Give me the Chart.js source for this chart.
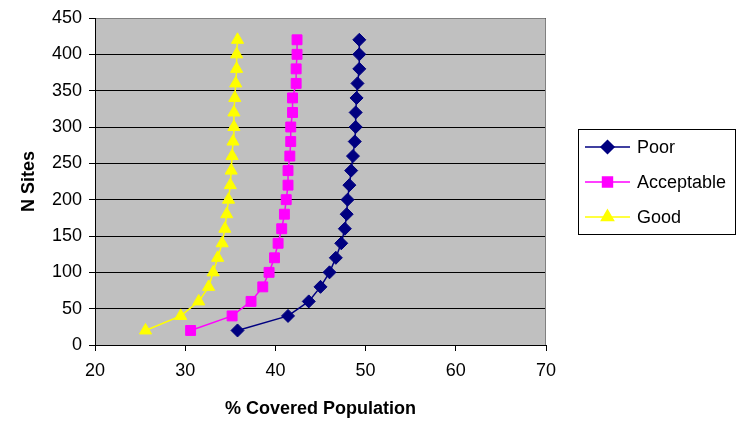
<!DOCTYPE html>
<html>
<head>
<meta charset="utf-8">
<script src="https://cdn.jsdelivr.net/npm/chart.js@4/dist/chart.umd.min.js"></script>
<style>
  body { margin: 0; background: #fff; }
  canvas { display: block; }
</style>
</head>
<body>
<canvas id="chart" width="738" height="423"></canvas>
<script>
// N Sites (y) shared by all series
const nSites = [20, 40, 60, 80, 100, 120, 140, 160, 180, 200, 220, 240, 260, 280, 300, 320, 340, 360, 380, 400, 420];

// % Covered Population (x) per series
const poor = [35.8, 41.4, 43.7, 45.0, 46.0, 46.7, 47.3, 47.7, 47.9, 48.0, 48.2, 48.4, 48.6, 48.8, 48.9, 48.9, 49.0, 49.1, 49.3, 49.3, 49.3];
const acceptable = [30.6, 35.2, 37.3, 38.6, 39.3, 39.9, 40.3, 40.7, 41.0, 41.2, 41.4, 41.4, 41.6, 41.7, 41.7, 41.9, 41.9, 42.3, 42.3, 42.4, 42.4];
const good = [25.6, 29.5, 31.5, 32.6, 33.1, 33.6, 34.1, 34.4, 34.6, 34.8, 35.0, 35.1, 35.2, 35.3, 35.4, 35.4, 35.5, 35.6, 35.7, 35.7, 35.8];

const xTicks = [20, 30, 40, 50, 60, 70];
const yTicks = [0, 50, 100, 150, 200, 250, 300, 350, 400, 450];

const toPoints = xs => xs.map((x, i) => ({ x, y: nSites[i] }));
const font = "'Liberation Sans', Arial, sans-serif";

// gray plot area + gray top/right frame
const plotArea = {
  id: "plotArea",
  beforeDraw(chart) {
    const { ctx, chartArea: a } = chart;
    ctx.save();
    ctx.fillStyle = "#c0c0c0";
    ctx.fillRect(a.left, a.top, a.right - a.left, a.bottom - a.top);
    ctx.restore();
  },
  beforeDatasetsDraw(chart) {
    const { ctx, chartArea: a } = chart;
    ctx.save();
    ctx.strokeStyle = "#808080";
    ctx.lineWidth = 1;
    ctx.beginPath();
    ctx.moveTo(a.left + 1, Math.round(a.top) + 0.5);
    ctx.lineTo(Math.round(a.right) - 0.5, Math.round(a.top) + 0.5);
    ctx.lineTo(Math.round(a.right) - 0.5, a.bottom);
    ctx.stroke();
    ctx.restore();
  }
};

// Excel style boxed legend on the right
const boxLegend = {
  id: "boxLegend",
  afterDraw(chart) {
    const { ctx } = chart;
    const box = { x: 578.5, y: 129.5, w: 157, h: 105 };
    ctx.save();
    ctx.fillStyle = "#fff";
    ctx.fillRect(box.x, box.y, box.w, box.h);
    ctx.strokeStyle = "#000";
    ctx.lineWidth = 1;
    ctx.strokeRect(box.x, box.y, box.w, box.h);
    chart.data.datasets.forEach((ds, i) => {
      const y = 147 + i * 35;
      ctx.strokeStyle = ds.borderColor;
      ctx.lineWidth = ds.borderWidth;
      ctx.beginPath();
      ctx.moveTo(585, y);
      ctx.lineTo(630, y);
      ctx.stroke();
      ctx.fillStyle = ds.backgroundColor;
      ctx.strokeStyle = ds.borderColor;
      Chart.helpers.drawPoint(ctx, { pointStyle: ds.pointStyle, radius: ds.pointRadius, borderWidth: 1, rotation: 0 }, 607.5, y);
      ctx.fillStyle = "#000";
      ctx.font = "18px " + font;
      ctx.textBaseline = "middle";
      ctx.fillText(ds.label, 637, y + 1);
    });
    ctx.restore();
  }
};

new Chart(document.getElementById("chart"), {
  type: "scatter",
  data: {
    datasets: [
      { label: "Poor", data: toPoints(poor), showLine: true, borderColor: "#000080", backgroundColor: "#000080", borderWidth: 1.5, pointStyle: "rectRot", pointRadius: 6.5, pointBorderWidth: 1 },
      { label: "Acceptable", data: toPoints(acceptable), showLine: true, borderColor: "#ff00ff", backgroundColor: "#ff00ff", borderWidth: 1.5, pointStyle: "rect", pointRadius: 7, pointBorderWidth: 1 },
      { label: "Good", data: toPoints(good), showLine: true, borderColor: "#ffff00", backgroundColor: "#ffff00", borderWidth: 1.5, pointStyle: "triangle", pointRadius: 7, pointBorderWidth: 1 }
    ]
  },
  options: {
    responsive: false,
    animation: false,
    layout: { padding: { top: 18, right: 192, bottom: 0, left: 0 } },
    plugins: { legend: { display: false }, tooltip: { enabled: false } },
    scales: {
      x: {
        type: "linear",
        min: 20,
        max: 70,
        afterBuildTicks: s => { s.ticks = xTicks.map(v => ({ value: v })); },
        afterFit: s => { s.height = 78; },
        grid: { drawOnChartArea: false, drawTicks: true, tickLength: 6, color: "#000" },
        border: { color: "#000", width: 1 },
        ticks: { color: "#000", font: { family: font, size: 18 }, padding: 9, maxRotation: 0 },
        title: { display: true, text: "% Covered Population", color: "#000", font: { family: font, size: 18, weight: "bold" }, padding: { top: 0, bottom: 3 } }
      },
      y: {
        type: "linear",
        min: 0,
        max: 450,
        afterBuildTicks: s => { s.ticks = yTicks.map(v => ({ value: v })); },
        afterFit: s => { s.width = 95; },
        grid: { color: "#000", lineWidth: 1, drawTicks: true, tickLength: 6 },
        border: { color: "#000", width: 1 },
        ticks: { color: "#000", font: { family: font, size: 18 }, padding: 7 },
        title: { display: true, text: "N Sites", color: "#000", font: { family: font, size: 18, weight: "bold" }, padding: { top: 18, bottom: 0 } }
      }
    }
  },
  plugins: [plotArea, boxLegend]
});
</script>
</body>
</html>
